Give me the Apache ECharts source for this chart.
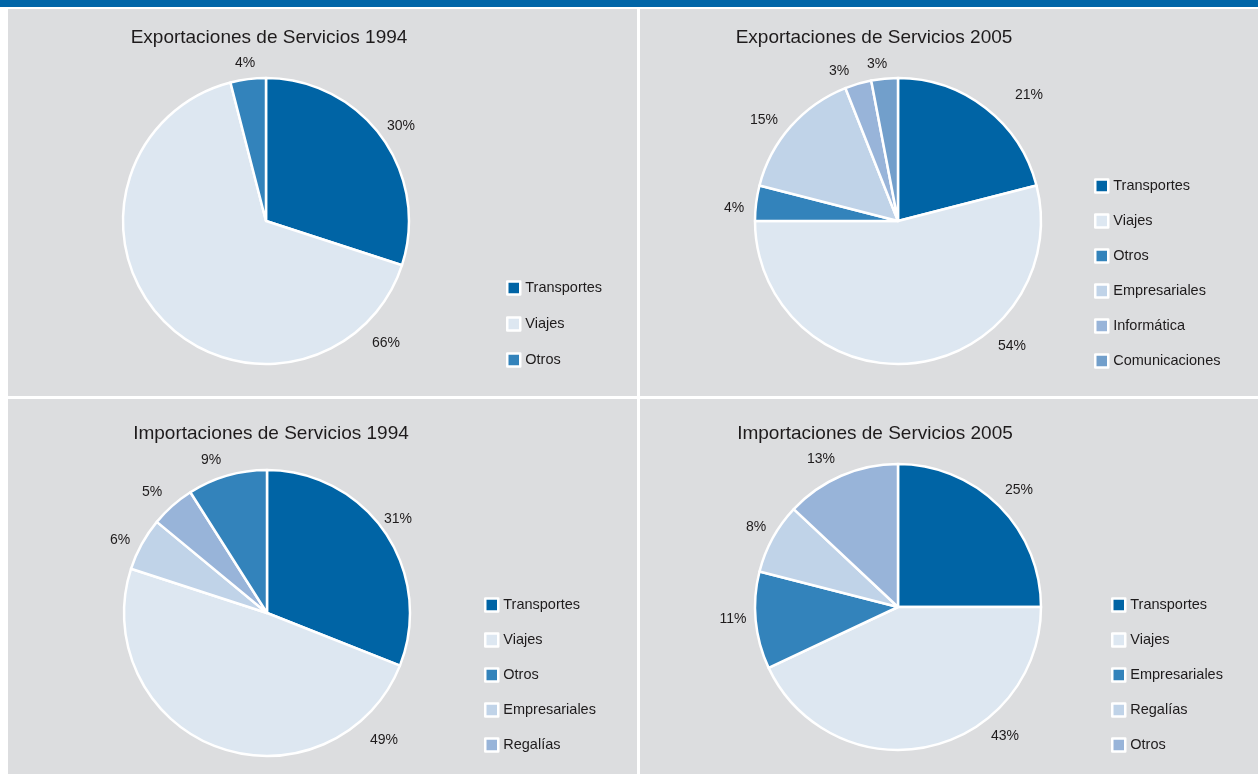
<!DOCTYPE html>
<html>
<head>
<meta charset="utf-8">
<title>Servicios</title>
<script src="https://cdn.jsdelivr.net/npm/echarts@6/dist/echarts.min.js"></script>
<style>
html,body{margin:0;padding:0;background:#fff;}
#main{width:1258px;height:774px;}
</style>
</head>
<body>
<div id="main"></div>
<script>
// datos
var palette = ['#0064a5','#dde7f1','#3383bb','#c0d3e8','#98b4d9','#729fcb'];

var titles = ['Exportaciones de Servicios 1994','Exportaciones de Servicios 2005','Importaciones de Servicios 1994','Importaciones de Servicios 2005'];

// orden de la leyenda (el color sale de aqui)
var exp94Legend = ['Transportes','Viajes','Otros'];
var exp05Legend = ['Transportes','Viajes','Otros','Empresariales','Informática','Comunicaciones'];
var imp94Legend = ['Transportes','Viajes','Otros','Empresariales','Regalías'];
var imp05Legend = ['Transportes','Viajes','Empresariales','Regalías','Otros'];

// orden de las porciones (sentido horario desde arriba)
var exp94Names = ['Transportes','Viajes','Otros'];
var exp94Values = [30,66,4];
var exp05Names = ['Transportes','Viajes','Otros','Empresariales','Informática','Comunicaciones'];
var exp05Values = [21,54,4,15,3,3];
var imp94Names = ['Transportes','Viajes','Empresariales','Regalías','Otros'];
var imp94Values = [31,49,6,5,9];
var imp05Names = ['Transportes','Viajes','Empresariales','Regalías','Otros'];
var imp05Values = [25,43,11,8,13];

// posicion de cada etiqueta de %
var labelPos = [
	[[401,126],[386,343],[245,63]],
	[[1029,95],[1012,346],[734,208],[764,120],[839,71],[877,64]],
	[[398,519],[384,740],[120,540],[152,492],[211,460]],
	[[1019,490],[1005,736],[733,619],[756,527],[821,459]]
];

var panels = [
	{names:exp94Names, values:exp94Values, legend:exp94Legend, center:[266,221], title:[269,28], leg:[506,280], gap:20},
	{names:exp05Names, values:exp05Values, legend:exp05Legend, center:[898,221], title:[874,28], leg:[1094,178], gap:19},
	{names:imp94Names, values:imp94Values, legend:imp94Legend, center:[267,613], title:[271,424], leg:[484,597], gap:19},
	{names:imp05Names, values:imp05Values, legend:imp05Legend, center:[898,607], title:[875,424], leg:[1111,597], gap:19}
];

var txtColor = '#1e1b1c';
var font = '"Liberation Sans", Arial, sans-serif';

var series = [], legends = [], titleList = [];
panels.forEach(function(p, k){
	var data = [];
	for(var i=0;i<p.names.length;i++){
		var idx = p.legend.indexOf(p.names[i]);
		data.push({
			name: k+'|'+p.names[i],
			value: p.values[i],
			itemStyle:{color: palette[idx]}
		});
	}
	series.push({
		type:'pie',
		center:p.center,
		radius:143,
		startAngle:90,
		clockwise:true,
		avoidLabelOverlap:false,
		itemStyle:{borderColor:'#fff', borderWidth:2.5},
		label:{
			show:true,
			position:'outside',
			formatter:'{c}%',
			color:txtColor,
			fontSize:14,
			fontFamily:font
		},
		labelLine:{show:false},
		labelLayout:function(params){
			var pos = labelPos[params.seriesIndex][params.dataIndex];
			return {x:pos[0], y:pos[1], align:'center', verticalAlign:'middle'};
		},
		emphasis:{disabled:true},
		data:data
	});
	legends.push({
		orient:'vertical',
		left:p.leg[0],
		top:p.leg[1],
		padding:0,
		itemGap:p.gap,
		itemWidth:13,
		itemHeight:13,
		icon:'rect',
		selectedMode:false,
		itemStyle:{borderColor:'#fff', borderWidth:2.5},
		textStyle:{color:txtColor, fontSize:14.5, fontFamily:font, lineHeight:16},
		formatter:function(name){ return name.split('|')[1]; },
		data:p.legend.map(function(n){ return k+'|'+n; })
	});
	titleList.push({
		text:titles[k],
		left:p.title[0],
		top:p.title[1],
		textAlign:'center',
		padding:0,
		textStyle:{color:txtColor, fontSize:19, fontWeight:'normal', fontFamily:font}
	});
});

var myChart = echarts.init(document.getElementById('main'));
myChart.setOption({
	backgroundColor:'#fff',
	animation:false,
	graphic:[
		{type:'rect', z:-10, shape:{x:0,y:0,width:1258,height:7}, style:{fill:'#0065a7'}},
		{type:'rect', z:-10, shape:{x:8,y:9,width:629,height:387}, style:{fill:'#dcdddf'}},
		{type:'rect', z:-10, shape:{x:640,y:9,width:618,height:387}, style:{fill:'#dcdddf'}},
		{type:'rect', z:-10, shape:{x:8,y:399,width:629,height:375}, style:{fill:'#dcdddf'}},
		{type:'rect', z:-10, shape:{x:640,y:399,width:618,height:375}, style:{fill:'#dcdddf'}}
	],
	title:titleList,
	legend:legends,
	series:series
});
</script>
</body>
</html>
